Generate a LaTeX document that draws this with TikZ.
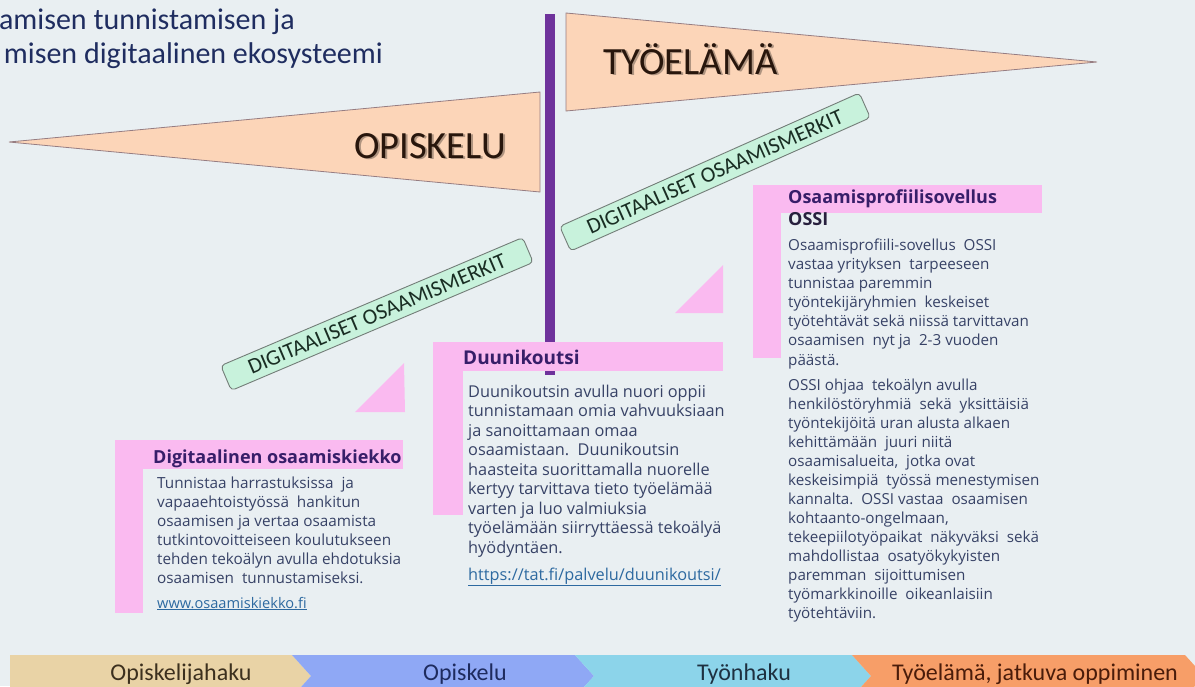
\documentclass[tikz,border=0pt]{standalone}
\usepackage{fontspec}
\setmainfont{Carlito}
\newfontfamily\osans{Open Sans}
\definecolor{bg}{RGB}{233,239,242}
\definecolor{peach}{RGB}{252,213,184}
\definecolor{pennedge}{RGB}{150,125,130}
\definecolor{penntextc}{RGB}{40,22,12}
\definecolor{vbar}{RGB}{110,50,155}
\definecolor{pinkc}{RGB}{250,186,240}
\definecolor{mint}{RGB}{200,242,220}
\definecolor{mintedge}{RGB}{115,125,120}
\definecolor{badgetext}{RGB}{25,45,35}
\definecolor{titlec}{RGB}{31,45,96}
\definecolor{headc}{RGB}{55,30,105}
\definecolor{headdark}{RGB}{40,32,62}
\definecolor{bodyc}{RGB}{55,66,102}
\definecolor{linkc}{RGB}{45,105,160}
\definecolor{chev1}{RGB}{233,211,166}
\definecolor{chev2}{RGB}{143,168,245}
\definecolor{chev3}{RGB}{140,212,234}
\definecolor{chev4}{RGB}{247,158,104}
\definecolor{chevt1}{RGB}{60,48,30}
\definecolor{chevt2}{RGB}{30,43,94}
\definecolor{chevt3}{RGB}{30,48,64}
\definecolor{chevt4}{RGB}{74,28,10}
\begin{document}
\begin{tikzpicture}[x=1pt,y=-1pt,
  titletext/.style={font=\fontsize{30}{30}\selectfont, text=titlec, inner sep=0},
  pennant/.style={fill=peach, draw=pennedge, line width=0.8pt},
  penntext/.style={font=\fontsize{38.5}{38.5}\selectfont, text=penntextc, inner sep=0},
  pennshadow/.style={font=\fontsize{38.5}{38.5}\selectfont, text=black, opacity=0.3, inner sep=0},
  pinkfill/.style={fill=pinkc},
  badge/.style={draw=mintedge, fill=mint, line width=0.9pt, rounded corners=4pt,
    minimum width=328pt, minimum height=27pt, inner sep=0,
    font=\fontsize{22}{22}\selectfont, text=badgetext},
  headtext/.style={font=\osans\bfseries\fontsize{18}{18}\selectfont, text=headc, inner sep=0},
  bodytext/.style={font=\osans, text=bodyc, inner sep=0},
  linktext/.style={text=linkc, inner sep=0},
  chevtext/.style={font=\fontsize{24}{24}\selectfont, inner sep=0}
]
\useasboundingbox (0,0) rectangle (1195,686);
\fill[bg] (0,0) rectangle (1195,686);
\clip (0,0) rectangle (1195,686);

% title
\node[titletext, anchor=base east] (t1) at (295,29) {amisen tunnistamisen ja};
\node[titletext, anchor=base east] (t2) at (383,63) {misen digitaalinen ekosysteemi};

% pennants
\draw[pennant] (540,92) -- (540,192) -- (9,142) -- cycle;
\node[pennshadow, anchor=base] (ops) at (432,159.5) {OPISKELU};
\node[penntext, anchor=base] (op) at (430,158) {OPISKELU};
\draw[pennant] (566,13) -- (566,111) -- (1097,62) -- cycle;
\node[pennshadow, anchor=base west] (tys) at (605,75.5) {TYÖELÄMÄ};
\node[penntext, anchor=base west] (ty) at (603,74) {TYÖELÄMÄ};

% purple vertical bar
\fill[vbar] (545,14) rectangle (555,375);

% triangles
\fill[pinkfill] (404,363) -- (405,412) -- (355,412) -- cycle;
\fill[pinkfill] (723,265) -- (723,313) -- (675,313) -- cycle;

% badges
\node[badge, rotate=23] (badge1) at (377,314) {DIGITAALISET OSAAMISMERKIT};
\node[badge, rotate=24] (badge2) at (715,172) {DIGITAALISET OSAAMISMERKIT};

% box 1
\fill[pinkfill] (115,440) rectangle (143,613);
\fill[pinkfill] (115,440) rectangle (403,469);
\node[headtext, anchor=base west] (h1) at (153,463) {Digitaalinen osaamiskiekko};
\node[bodytext, anchor=base west] (p1) at (157,488) {\parbox[t]{260pt}{\fontsize{15.3}{19}\selectfont\raggedright
Tunnistaa harrastuksissa\ \ ja\\
vapaaehtoistyössä\ \ hankitun\\
osaamisen ja vertaa osaamista\\
tutkintovoitteiseen koulutukseen\\
tehden tekoälyn avulla ehdotuksia\\
osaamisen\ \ tunnustamiseksi.}};
\node[bodytext, linktext, anchor=base west, font=\osans\fontsize{14.6}{19}\selectfont] (l1) at (157,608) {\underline{www.osaamiskiekko.fi}};

% box 2
\fill[pinkfill] (433,342) rectangle (463,515);
\fill[pinkfill] (433,342) rectangle (723,371);
\node[headtext, anchor=base west, font=\osans\bfseries\fontsize{19}{19}\selectfont] (h2) at (463,364) {Duunikoutsi};
\node[bodytext, anchor=base west] (p2) at (468,397) {\parbox[t]{270pt}{\fontsize{16.3}{19.5}\selectfont\raggedright
Duunikoutsin avulla nuori oppii\\
tunnistamaan omia vahvuuksiaan\\
ja sanoittamaan omaa\\
osaamistaan.\ \ Duunikoutsin\\
haasteita suorittamalla nuorelle\\
kertyy tarvittava tieto työelämää\\
varten ja luo valmiuksia\\
työelämään siirryttäessä tekoälyä\\
hyödyntäen.}};
\node[bodytext, linktext, anchor=base west, font=\osans\fontsize{16.3}{19.5}\selectfont] (l2) at (468,580) {\underline{https://tat.fi/palvelu/duunikoutsi/}};

% box 3
\fill[pinkfill] (753,185) rectangle (781,358);
\fill[pinkfill] (753,185) rectangle (1042,213);
\node[headtext, anchor=base west] (h3) at (788,203) {Osaamisprofiilisovellus};
\node[headtext, anchor=base west, text=headdark] (h3b) at (788,225) {OSSI};
\node[bodytext, anchor=base west] (p3) at (788,250) {\parbox[t]{270pt}{\fontsize{15.2}{19.17}\selectfont\raggedright
Osaamisprofiili-sovellus\ \ OSSI\\
vastaa yrityksen\ \ tarpeeseen\\
tunnistaa paremmin\\
työntekijäryhmien\ \ keskeiset\\
työtehtävät sekä niissä tarvittavan\\
osaamisen\ \ nyt ja\ \ 2-3 vuoden\\
päästä.}};
\node[bodytext, anchor=base west] (p4) at (788,390) {\parbox[t]{270pt}{\fontsize{15.2}{19}\selectfont\raggedright
OSSI ohjaa\ \ tekoälyn avulla\\
henkilöstöryhmiä\ \ sekä\ \ yksittäisiä\\
työntekijöitä uran alusta alkaen\\
kehittämään\ \ juuri niitä\\
osaamisalueita,\ \ jotka ovat\\
keskeisimpiä\ \ työssä menestymisen\\
kannalta.\ \ OSSI vastaa\ \ osaamisen\\
kohtaanto-ongelmaan,\\
tekeepiilotyöpaikat\ \ näkyväksi\ \ sekä\\
mahdollistaa\ \ osatyökykyisten\\
paremman\ \ sijoittumisen\\
työmarkkinoille\ \ oikeanlaisiin\\
työtehtäviin.}};

% chevrons
\fill[chev1] (10,655) -- (292,655) -- (311,676) -- (292,697) -- (10,697) -- cycle;
\fill[chev2] (292,655) -- (575,655) -- (594,676) -- (575,697) -- (292,697) -- (311,676) -- cycle;
\fill[chev3] (575,655) -- (852,655) -- (871,676) -- (852,697) -- (575,697) -- (594,676) -- cycle;
\fill[chev4] (852,655) -- (1185,655) -- (1204,676) -- (1185,697) -- (852,697) -- (871,676) -- cycle;
\node[chevtext, text=chevt1, anchor=base] (c1) at (181,680) {Opiskelijahaku};
\node[chevtext, text=chevt2, anchor=base] (c2) at (465,680) {Opiskelu};
\node[chevtext, text=chevt3, anchor=base] (c3) at (744,680) {Työnhaku};
\node[chevtext, text=chevt4, anchor=base] (c4) at (1035,680) {Työelämä, jatkuva oppiminen};
\end{tikzpicture}
\end{document}
